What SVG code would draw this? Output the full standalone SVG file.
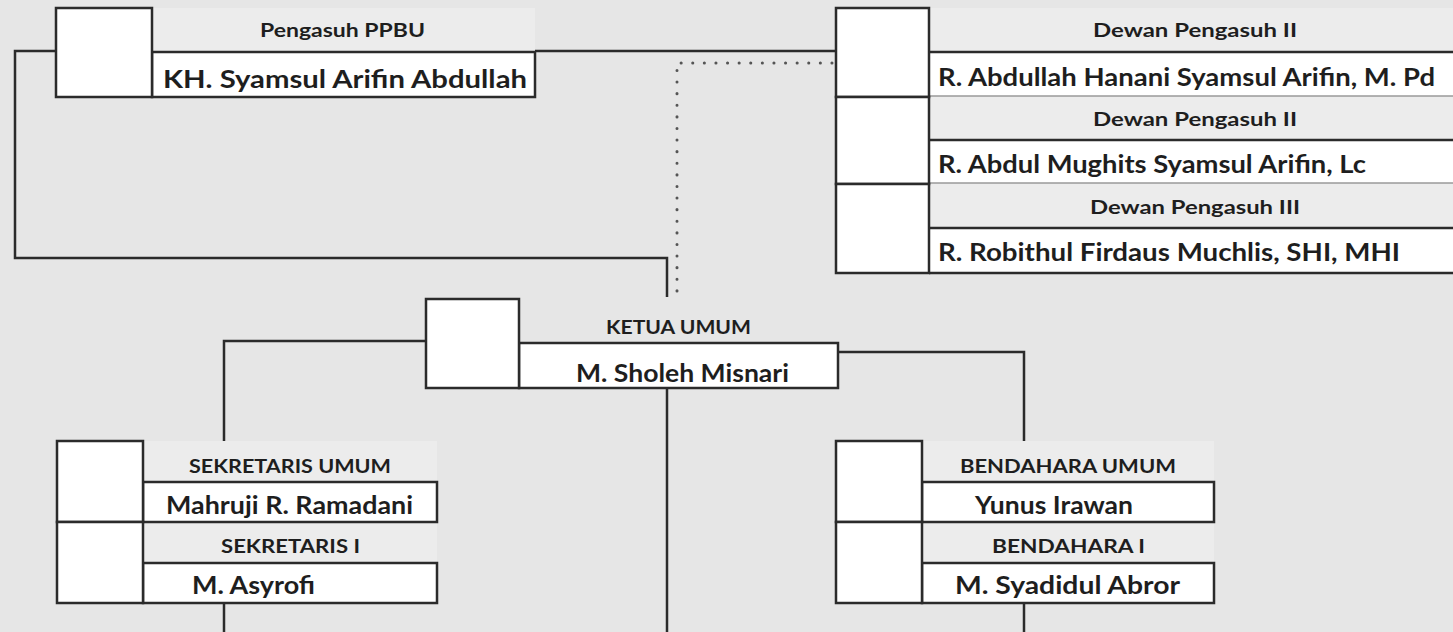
<svg xmlns="http://www.w3.org/2000/svg" width="1453" height="632" viewBox="0 0 1453 632">
<style>
.bg{fill:#e6e6e6}
.lab{fill:#ececec}
.box{fill:#ffffff;stroke:#2b2b2b;stroke-width:2.5}
.ln{fill:none;stroke:#2b2b2b;stroke-width:2.5}
.thin{fill:none;stroke:#9a9a9a;stroke-width:1.5}
.dot{fill:none;stroke:#555555;stroke-width:3;stroke-linecap:round;stroke-dasharray:0.1 11.5}
text{font-family:Lato,"Open Sans","Liberation Sans",sans-serif;font-weight:700;fill:#1e1e1e}
.t{font-size:19px}
.n{font-size:25px}
</style>
<rect class="bg" x="0" y="0" width="1453" height="632"/>
<g id="connectors">
<polyline class="ln" points="55,51 15,51 15,258 667,258 667,297"/>
<line class="ln" x1="535" y1="51" x2="836" y2="51"/>
<polyline class="dot" points="832,63 677,63 677,297"/>
<polyline class="ln" points="426,341 224,341 224,441"/>
<polyline class="ln" points="838,352 1024,352 1024,441"/>
<line class="ln" x1="667" y1="388" x2="667" y2="632"/>
<line class="ln" x1="224" y1="603" x2="224" y2="632"/>
<line class="ln" x1="1024" y1="603" x2="1024" y2="632"/>
</g>
<g id="pengasuh">
<rect class="lab" x="152" y="8" width="383" height="44"/>
<rect class="box" x="152" y="52" width="383" height="45"/>
<rect class="box" x="56" y="8" width="96" height="89"/>
<text class="t" x="260" y="37" textLength="165" lengthAdjust="spacingAndGlyphs">Pengasuh PPBU</text>
<text class="n" x="163" y="88" textLength="364" lengthAdjust="spacingAndGlyphs">KH. Syamsul Arifin Abdullah</text>
</g>
<g id="dewan">
<rect class="lab" x="929" y="8" width="530" height="44"/>
<rect class="lab" x="929" y="96" width="530" height="44"/>
<rect class="lab" x="929" y="183" width="530" height="45"/>
<rect x="929" y="52" width="530" height="44" fill="#ffffff"/>
<rect x="929" y="140" width="530" height="43" fill="#ffffff"/>
<rect x="929" y="228" width="530" height="45" fill="#ffffff"/>
<line class="ln" x1="929" y1="52" x2="1453" y2="52"/>
<line class="thin" x1="929" y1="96" x2="1453" y2="96"/>
<line class="ln" x1="929" y1="140" x2="1453" y2="140"/>
<line class="thin" x1="929" y1="183" x2="1453" y2="183"/>
<line class="ln" x1="929" y1="228" x2="1453" y2="228"/>
<line class="ln" x1="929" y1="273" x2="1453" y2="273"/>
<rect class="box" x="836" y="8" width="93" height="89"/>
<rect class="box" x="836" y="97" width="93" height="87"/>
<rect class="box" x="836" y="184" width="93" height="89"/>
<text class="t" x="1093" y="37" textLength="204" lengthAdjust="spacingAndGlyphs">Dewan Pengasuh II</text>
<text class="n" x="938" y="86" textLength="497" lengthAdjust="spacingAndGlyphs">R. Abdullah Hanani Syamsul Arifin, M. Pd</text>
<text class="t" x="1093" y="126" textLength="204" lengthAdjust="spacingAndGlyphs">Dewan Pengasuh II</text>
<text class="n" x="938" y="173" textLength="428" lengthAdjust="spacingAndGlyphs">R. Abdul Mughits Syamsul Arifin, Lc</text>
<text class="t" x="1090" y="214" textLength="210" lengthAdjust="spacingAndGlyphs">Dewan Pengasuh III</text>
<text class="n" x="938" y="261" textLength="462" lengthAdjust="spacingAndGlyphs">R. Robithul Firdaus Muchlis, SHI, MHI</text>
</g>
<g id="ketua">
<rect class="box" x="519" y="343" width="319" height="45"/>
<rect class="box" x="426" y="299" width="93" height="89"/>
<text class="t" x="606" y="334" textLength="145" lengthAdjust="spacingAndGlyphs">KETUA UMUM</text>
<text class="n" x="576" y="382" textLength="213" lengthAdjust="spacingAndGlyphs">M. Sholeh Misnari</text>
</g>
<g id="sekretaris">
<rect class="lab" x="143" y="441" width="294" height="41"/>
<rect class="lab" x="143" y="522" width="294" height="41"/>
<rect class="box" x="143" y="482" width="294" height="40"/>
<rect class="box" x="143" y="563" width="294" height="40"/>
<rect class="box" x="57" y="441" width="86" height="81"/>
<rect class="box" x="57" y="522" width="86" height="81"/>
<text class="t" x="189" y="473" textLength="202" lengthAdjust="spacingAndGlyphs">SEKRETARIS UMUM</text>
<text class="n" x="166" y="514" textLength="247" lengthAdjust="spacingAndGlyphs">Mahruji R. Ramadani</text>
<text class="t" x="221" y="553" textLength="139" lengthAdjust="spacingAndGlyphs">SEKRETARIS I</text>
<text class="n" x="192" y="594" textLength="123" lengthAdjust="spacingAndGlyphs">M. Asyrofi</text>
</g>
<g id="bendahara">
<rect class="lab" x="922" y="441" width="292" height="41"/>
<rect class="lab" x="922" y="522" width="292" height="41"/>
<rect class="box" x="922" y="482" width="292" height="40"/>
<rect class="box" x="922" y="563" width="292" height="40"/>
<rect class="box" x="836" y="441" width="86" height="81"/>
<rect class="box" x="836" y="522" width="86" height="81"/>
<text class="t" x="960" y="473" textLength="216" lengthAdjust="spacingAndGlyphs">BENDAHARA UMUM</text>
<text class="n" x="975" y="514" textLength="158" lengthAdjust="spacingAndGlyphs">Yunus Irawan</text>
<text class="t" x="992" y="553" textLength="153" lengthAdjust="spacingAndGlyphs">BENDAHARA I</text>
<text class="n" x="955" y="594" textLength="225" lengthAdjust="spacingAndGlyphs">M. Syadidul Abror</text>
</g>
</svg>
